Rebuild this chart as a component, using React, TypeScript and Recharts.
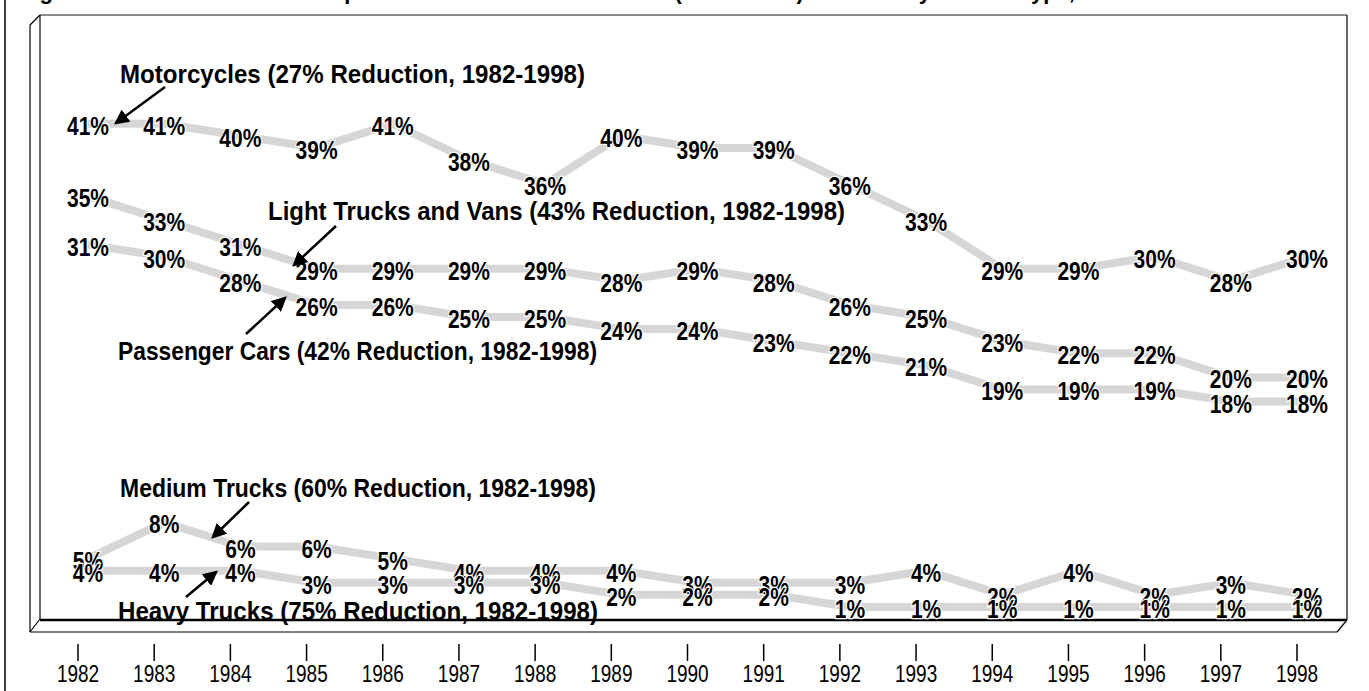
import React from "react";
import { LineChart, Line, XAxis, YAxis } from "recharts";

const YEARS = ["1982","1983","1984","1985","1986","1987","1988","1989","1990","1991","1992","1993","1994","1995","1996","1997","1998"];
const MOTORCYCLES = [41, 41, 40, 39, 41, 38, 36, 40, 39, 39, 36, 33, 29, 29, 30, 28, 30];
const LIGHT_TRUCKS = [35, 33, 31, 29, 29, 29, 29, 28, 29, 28, 26, 25, 23, 22, 22, 20, 20];
const PASSENGER_CARS = [31, 30, 28, 26, 26, 25, 25, 24, 24, 23, 22, 21, 19, 19, 19, 18, 18];
const MEDIUM_TRUCKS = [5, 8, 6, 6, 5, 4, 4, 4, 3, 3, 3, 4, 2, 4, 2, 3, 2];
const HEAVY_TRUCKS = [4, 4, 4, 3, 3, 3, 3, 2, 2, 2, 1, 1, 1, 1, 1, 1, 1];
const SERIES = ["moto", "light", "cars", "medium", "heavy"];

const data = YEARS.map((year, i) => ({
  year,
  moto: MOTORCYCLES[i],
  light: LIGHT_TRUCKS[i],
  cars: PASSENGER_CARS[i],
  medium: MEDIUM_TRUCKS[i],
  heavy: HEAVY_TRUCKS[i],
}));

const W = 1369, H = 691;
const P = { left: 40, top: 15, right: 1347, bottom: 619 };
const DX = 10, DY = 13;
const FONT = "'Liberation Sans', Arial, Helvetica, sans-serif";
const LINE_GRAY = "#d6d6d6";

const ANNOTATIONS = [
  { text: "Motorcycles (27% Reduction, 1982-1998)", x: 120, y: 83, w: 465, arrow: [165, 87, 116, 123] },
  { text: "Light Trucks and Vans (43% Reduction, 1982-1998)", x: 268, y: 220, w: 577, arrow: [336, 226, 294, 265] },
  { text: "Passenger Cars (42% Reduction, 1982-1998)", x: 118, y: 360, w: 479, arrow: [246, 334, 285, 298] },
  { text: "Medium Trucks (60% Reduction, 1982-1998)", x: 120, y: 497, w: 476, arrow: [249, 502, 213, 537] },
  { text: "Heavy Trucks (75% Reduction, 1982-1998)", x: 118, y: 620, w: 480, arrow: [186, 597, 216, 572] },
];

// text stretched vertically, like the tall bold type of the original
function TallText({ x, y, sy = 1.2, children, ...rest }: any) {
  return (
    <text transform={`translate(${x},${y}) scale(1,${sy})`} x={0} y={0} fontFamily={FONT} fill="#000" {...rest}>
      {children}
    </text>
  );
}

function YearTick(props: any) {
  const x = props.x - DX;
  return (
    <g>
      <line x1={x} x2={x} y1={P.bottom + 25} y2={P.bottom + 42} stroke="#000" strokeWidth={1.5} />
      <TallText x={x} y={P.bottom + 63} sy={1.22} textAnchor="middle" fontSize={19}>
        {props.payload.value}
      </TallText>
    </g>
  );
}

function renderLabel(props: any) {
  const { x, y, value, index } = props;
  return (
    <TallText
      key={index}
      x={x}
      y={y + 11}
      sy={1.2}
      textAnchor="middle"
      fontWeight="bold"
      fontSize={21}
      stroke="#fff"
      strokeWidth={2}
      paintOrder="stroke"
    >
      {value}%
    </TallText>
  );
}

function Frame() {
  return (
    <svg width={W} height={H} style={{ position: "absolute", left: 0, top: 0 }}>
      <line x1={5} y1={0} x2={5} y2={H} stroke="#000" strokeWidth={1.5} />
      <text x={20} y={-1} fontFamily={FONT} fontWeight="bold" fontSize={22} fill="#000">
        Figure 3. Percent of Alcohol-Impaired Drivers in Fatal Crashes (BAC ≥ 0.10) Involved by Vehicle Type, 1982-1998
      </text>
      {/* back wall */}
      <line x1={P.left} y1={P.top} x2={P.right} y2={P.top} stroke="#666" strokeWidth={1.5} />
      <line x1={P.right} y1={P.top} x2={P.right} y2={P.bottom + 1} stroke="#000" strokeWidth={1.2} />
      <line x1={P.left} y1={P.top} x2={P.left} y2={P.bottom} stroke="#000" strokeWidth={1.2} />
      <line x1={P.left} y1={P.bottom + 1} x2={P.right} y2={P.bottom + 1} stroke="#000" strokeWidth={2.5} />
      {/* left wall front edge */}
      <line x1={P.left - DX} y1={P.top + DX} x2={P.left} y2={P.top} stroke="#000" strokeWidth={1.2} />
      <line x1={P.left - DX} y1={P.top + DX} x2={P.left - DX} y2={P.bottom + DY} stroke="#000" strokeWidth={1.2} />
      {/* floor front edge */}
      <line x1={P.left - DX} y1={P.bottom + DY} x2={P.right - DX} y2={P.bottom + DY} stroke="#000" strokeWidth={1.2} />
      <line x1={P.left - DX} y1={P.bottom + DY} x2={P.left} y2={P.bottom} stroke="#000" strokeWidth={1.2} />
      <line x1={P.right - DX} y1={P.bottom + DY} x2={P.right} y2={P.bottom + 1} stroke="#000" strokeWidth={1.2} />
    </svg>
  );
}

function Annotations() {
  return (
    <svg width={W} height={H} style={{ position: "absolute", left: 0, top: 0, pointerEvents: "none" }}>
      <defs>
        <marker id="arrowhead" markerWidth="6" markerHeight="6" refX="5" refY="3" orient="auto" markerUnits="strokeWidth">
          <path d="M0,0 L6,3 L0,6 Z" fill="#000" />
        </marker>
      </defs>
      {ANNOTATIONS.map((a) => (
        <g key={a.text}>
          <TallText x={a.x} y={a.y} sy={1.08} fontWeight="bold" fontSize={24} textLength={a.w} lengthAdjust="spacingAndGlyphs">
            {a.text}
          </TallText>
          <line x1={a.arrow[0]} y1={a.arrow[1]} x2={a.arrow[2]} y2={a.arrow[3]} stroke="#000" strokeWidth={2.5} markerEnd="url(#arrowhead)" />
        </g>
      ))}
    </svg>
  );
}

export default function App() {
  return (
    <div style={{ position: "absolute", left: 0, top: 0, width: W, height: H, background: "#fff", overflow: "hidden" }}>
      <Frame />
      <div style={{ position: "absolute", left: 0, top: 0 }}>
        <LineChart
          width={W}
          height={H}
          data={data}
          margin={{ top: P.top, left: P.left, right: W - P.right, bottom: 12 }}
        >
          <YAxis hide width={0} domain={[0, 50]} />
          <XAxis
            dataKey="year"
            height={H - P.bottom - 12}
            padding={{ left: 48, right: 40 }}
            axisLine={false}
            tickLine={false}
            interval={0}
            tick={<YearTick />}
          />
          {SERIES.map((k) => (
            <Line key={k} dataKey={k} type="linear" stroke={LINE_GRAY} strokeWidth={8} dot={false} isAnimationActive={false} />
          ))}
          {SERIES.map((k) => (
            <Line key={k + "-lbl"} dataKey={k} type="linear" stroke="none" dot={false} label={renderLabel} isAnimationActive={false} />
          ))}
        </LineChart>
      </div>
      <Annotations />
    </div>
  );
}
